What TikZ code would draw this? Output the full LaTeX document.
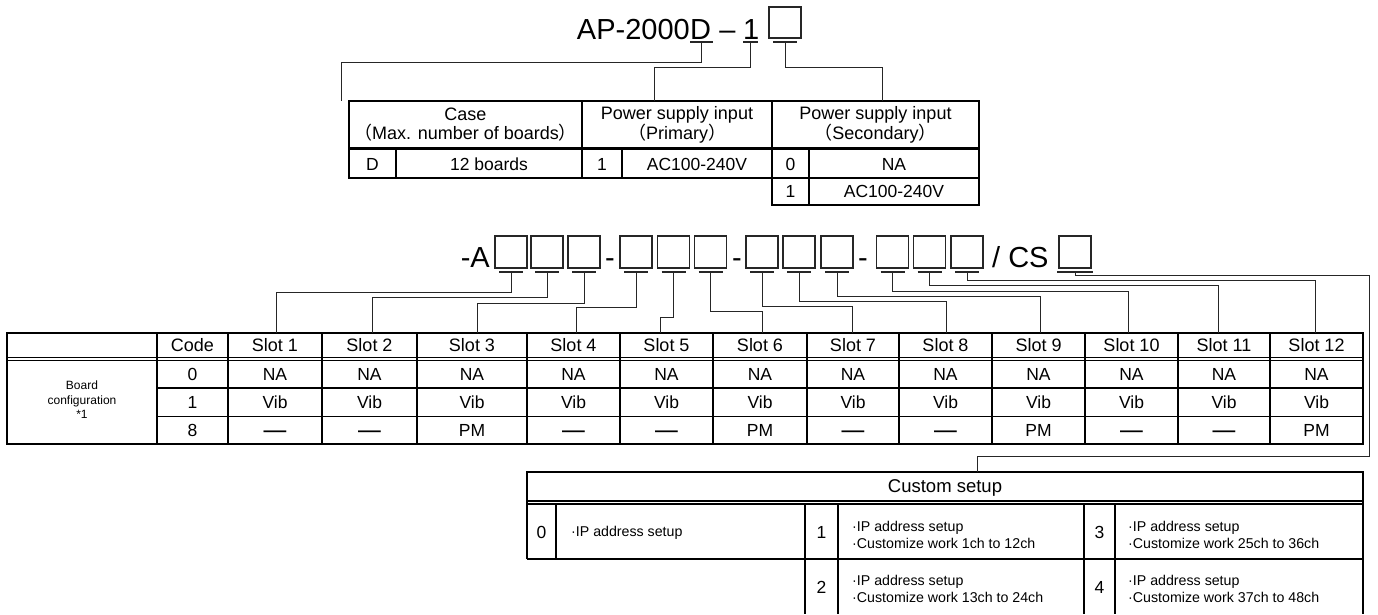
\documentclass[tikz,border=0pt]{standalone}
\usepackage{fontspec}
\setmainfont{Liberation Sans}
\newfontfamily\cjk{Noto Sans CJK JP}
\newcommand\dsh{\scalebox{1.3}[1]{\textbf{—}}}
\begin{document}
\begin{tikzpicture}[x=1pt,y=-1pt,
  tl/.style={line width=1.8pt},
  dl/.style={line width=1.2pt},
  conn/.style={line width=1pt,black!85},
  ul/.style={line width=1.2pt,black!85},
  ebox/.style={draw=black!85,line width=1.2pt,minimum width=32pt,minimum height=32pt,inner sep=0pt},
  big/.style={inner sep=0pt,font=\fontsize{29}{30}\selectfont},
  cell/.style={inner sep=0pt,text height=12.5pt,text depth=0pt,font=\fontsize{17.5}{20}\selectfont},
  hcell/.style={cell,minimum height=25pt,anchor=north,font=\fontsize{18}{20}\selectfont},
  thead/.style={inner sep=0pt,align=center,anchor=north,minimum height=47pt,font=\fontsize{18}{18.5}\selectfont},
  small/.style={inner sep=0pt,align=left,anchor=west,font=\fontsize{14.2}{17}\selectfont},
]
\useasboundingbox (0,0) rectangle (1378,614);

% ---------- title ----------
\node[big,anchor=base east] (tAP) at (690,39) {AP-2000};
\node[big,anchor=base west] (tD) at (690,39) {D};
\node[big,anchor=base] (tdash) at (727.5,39) {–};
\node[big,anchor=base west] (t1) at (743,39) {1};
\node[ebox,minimum height=31pt] (tbox) at (785,22.5) {};
\coordinate (uD) at (701.5,42);
\coordinate (uP) at (750.5,42);
\coordinate (uS) at (785,42);
\draw[ul] (690,42) -- (713,42);
\draw[ul] (743,42) -- (758,42);
\draw[ul] (773,42) -- (797,42);

% ---------- top table ----------
\draw[tl] (349,101) rectangle (772,178);
\draw[tl] (772,101) rectangle (979,205);
\draw[line width=2.6pt] (349,148.5) -- (979,148.5);
\draw[tl] (772,178) -- (979,178);
\draw[tl] (396,148.5) -- (396,178);
\draw[tl] (582,101) -- (582,178);
\draw[tl] (622,148.5) -- (622,178);
\draw[tl] (809,148.5) -- (809,205);

\node[thead] (hCase) at (465.5,101) {Case\\{\cjk （}Max. number of boards{\cjk ）}};
\node[thead] (hPri) at (677,101) {Power supply input\\{\cjk （}Primary{\cjk ）}};
\node[thead] (hSec) at (875.5,101) {Power supply input\\{\cjk （}Secondary{\cjk ）}};

\node[cell] (cD) at (372.5,164) {D};
\node[cell] (c12) at (489,164) {12 boards};
\node[cell] (cP1) at (602,164) {1};
\node[cell] (cPac) at (697,164) {AC100-240V};
\node[cell] (cS0) at (790.5,164) {0};
\node[cell] (cSna) at (894,164) {NA};
\node[cell] (cS1) at (790.5,191.5) {1};
\node[cell] (cSac) at (894,191.5) {AC100-240V};

\draw[conn] (uD) -- (uD |- 0,62) -| ([xshift=-124.5pt]hCase.north);
\draw[conn] (uP) -- (uP |- 0,67) -| ([xshift=-23pt]hPri.north);
\draw[conn] (uS) -- (uS |- 0,67) -| ([xshift=6.5pt]hSec.north);

% ---------- model code row ----------
\node[big,anchor=base east] (tA) at (490,267) {-A};
\foreach \n/\x in {1/511,2/547,3/584,4/636,5/673.5,6/710.5,7/762,8/799,9/837,10/892.5,11/929.5,12/967}{
  \node[ebox] (b\n) at (\x,252) {};
  \coordinate (u\n) at (\x,272);
  \draw[ul] (\x-12,272) -- (\x+12,272);
}
\node[big,anchor=base] (sep1) at (610,267) {-};
\node[big,anchor=base] (sep2) at (737,267) {-};
\node[big,anchor=base] (sep3) at (863,267) {-};
\node[big,anchor=base west] (tCS) at (992,267) {/ CS};
\node[ebox] (bcs) at (1075,252) {};
\coordinate (ucs) at (1075,272);
\draw[ul] (1057,272) -- (1093,272);

% ---------- main table ----------
\draw[tl] (7,333) rectangle (1363,444);
\draw[dl] (7,357.8) -- (1363,357.8);
\draw[dl] (7,360.8) -- (1363,360.8);
\draw[tl] (157,388.3) -- (1363,388.3);
\draw[tl] (157,416.5) -- (1363,416.5);
\foreach \x in {157,228,322,417,527,620,713,807,899,992,1085,1178,1270}
  \draw[tl] (\x,333) -- (\x,444);

\node[hcell] (code) at (192.5,333) {Code};
\node[cell] (k0) at (192.5,374.5) {0};
\node[cell] (k1) at (192.5,402.5) {1};
\node[cell] (k8) at (192.5,430.5) {8};
\node[inner sep=0pt,align=center,font=\fontsize{12}{14.5}\selectfont] (bc) at (82,400) {Board\\configuration\\*1};

\foreach \n/\a/\b/\r in {1/228/322/\dsh,2/322/417/\dsh,3/417/527/PM,4/527/620/\dsh,5/620/713/\dsh,6/713/807/PM,7/807/899/\dsh,8/899/992/\dsh,9/992/1085/PM,10/1085/1178/\dsh,11/1178/1270/\dsh,12/1270/1363/PM}{
  \node[hcell] (s\n) at ({(\a+\b)/2},333) {Slot \n};
  \node[cell] (na\n) at ({(\a+\b)/2},374.5) {NA};
  \node[cell] (vb\n) at ({(\a+\b)/2},402.5) {Vib};
  \node[cell] (pm\n) at ({(\a+\b)/2},430.5) {\r};
}

\foreach \n/\L/\d in {1/292/1,2/297/2.5,3/303/5,4/307/2.5,5/317/-6.5,6/311/2,7/306/-1,8/301/0.5,9/296/1.5,10/291/-3.5,11/285/-6,12/280/-1.5}
  \draw[conn] (u\n) -- (u\n |- 0,\L) -| ([xshift=\d pt]s\n.north);

% ---------- custom setup table ----------
\draw[tl] (527,559) -- (527,472) -- (1363,472) -- (1363,614);
\draw[dl] (527,501) -- (1363,501);
\draw[dl] (527,504) -- (1363,504);
\draw[tl] (527,559) -- (1363,559);
\draw[tl] (556,504) -- (556,559);
\foreach \x in {805,838,1084,1115}
  \draw[tl] (\x,504) -- (\x,614);

\node[cell,minimum height=29pt,anchor=north,font=\fontsize{18.5}{20}\selectfont] (chead) at (945,472) {Custom setup};
\node[cell] (cs0) at (541.5,532) {0};
\node[small] (ct0) at (571,533) {·IP address setup};
\node[cell] (cs1) at (821.5,532) {1};
\node[small] (ct1) at (852,534.5) {·IP address setup\\·Customize work 1ch to 12ch};
\node[cell] (cs3) at (1099.5,532) {3};
\node[small] (ct3) at (1128,534.5) {·IP address setup\\·Customize work 25ch to 36ch};
\node[cell] (cs2) at (821.5,587) {2};
\node[small] (ct2) at (852,589) {·IP address setup\\·Customize work 13ch to 24ch};
\node[cell] (cs4) at (1099.5,587) {4};
\node[small] (ct4) at (1128,589) {·IP address setup\\·Customize work 37ch to 48ch};

\coordinate (cr) at (1369,456);
\draw[conn] (ucs) -- (ucs |- 0,275) -| (cr) -| ([xshift=32pt]chead.north);
\end{tikzpicture}
\end{document}
